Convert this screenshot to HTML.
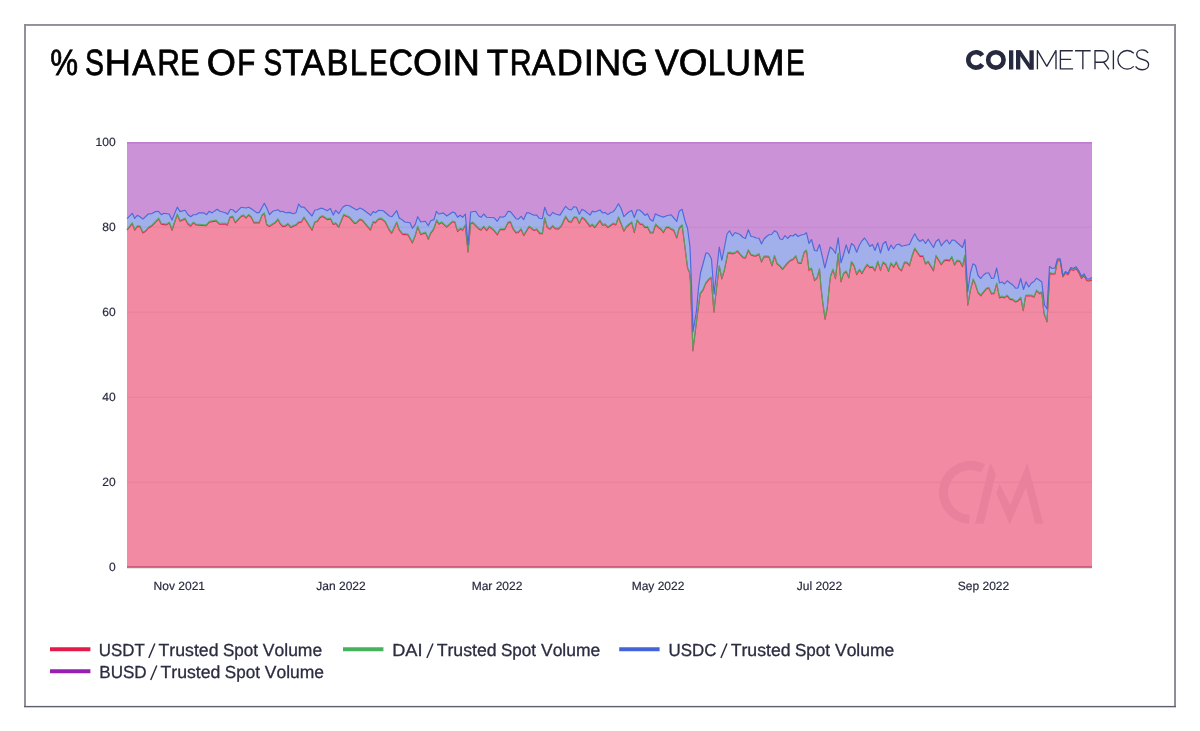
<!DOCTYPE html>
<html><head><meta charset="utf-8"><title>% Share of Stablecoin Trading Volume</title>
<style>
html,body{margin:0;padding:0;background:#fff;}
body{width:1200px;height:731px;overflow:hidden;font-family:"Liberation Sans",sans-serif;}
svg{display:block;font-family:"Liberation Sans",sans-serif;text-rendering:geometricPrecision;}
</style></head>
<body>
<svg width="1200" height="731" viewBox="0 0 1200 731" style="position:absolute;left:0;top:0;will-change:transform">
<g fill="#8a8c99"><rect x="24.05" y="24.05" width="1151.95" height="1.85"/><rect x="24.05" y="24.05" width="1.9" height="683"/><rect x="1174.05" y="24.05" width="1.95" height="683"/></g>
<rect x="24.05" y="705.9" width="1151.95" height="1.25" fill="#5c5f70"/><rect x="24.05" y="707.15" width="1151.95" height="0.6" fill="#b9bbc4"/>
<rect x="127.0" y="142.0" width="965.0" height="425.0" fill="#cc92d8"/>
<path d="M127.0,218.7 L132.3,213.3 L134.7,218.4 L137.3,215.3 L140.0,216.7 L142.9,219.1 L148.3,214.0 L152.0,213.6 L155.7,211.6 L158.4,211.3 L161.3,214.7 L164.0,213.3 L169.1,214.0 L172.0,220.0 L177.3,207.1 L180.0,211.6 L185.1,210.3 L188.0,214.7 L190.7,216.7 L193.3,214.7 L196.0,214.7 L198.7,212.9 L204.0,212.9 L206.7,214.7 L209.1,211.3 L212.0,212.9 L217.1,209.3 L220.0,211.3 L225.3,212.7 L227.7,214.3 L230.4,209.3 L233.1,210.0 L235.7,212.7 L241.1,207.3 L246.0,208.0 L248.7,207.3 L252.0,209.3 L257.1,212.9 L259.3,212.4 L264.3,203.3 L266.7,208.0 L269.6,214.7 L272.7,211.3 L278.0,209.7 L280.0,211.6 L282.7,211.3 L285.3,212.7 L289.3,212.4 L293.3,213.7 L296.0,212.7 L298.7,204.0 L301.1,207.1 L304.0,207.1 L312.0,216.0 L314.9,210.0 L317.3,209.7 L320.0,208.4 L322.7,208.4 L327.3,210.7 L330.4,208.4 L333.3,215.1 L335.7,210.3 L338.7,213.7 L342.7,207.3 L346.0,205.3 L349.3,205.7 L356.7,210.0 L360.0,208.0 L362.7,209.3 L370.7,215.3 L373.1,211.6 L375.3,212.7 L378.7,210.3 L383.3,210.7 L389.3,216.0 L392.0,216.7 L396.7,210.7 L399.3,218.3 L402.0,219.6 L404.7,222.0 L410.0,222.7 L412.4,228.4 L415.3,224.4 L417.7,216.7 L420.7,222.0 L425.3,221.3 L428.3,225.7 L430.7,220.7 L434.0,219.6 L436.4,211.3 L438.7,214.0 L440.0,213.7 L443.3,212.9 L446.7,216.0 L452.7,212.0 L454.9,212.9 L457.6,217.3 L460.0,215.3 L462.7,217.3 L465.3,214.0 L468.0,244.7 L470.7,212.0 L475.7,211.3 L478.7,216.0 L481.1,217.3 L483.7,214.0 L486.7,217.3 L494.0,217.7 L497.3,221.3 L500.0,216.7 L502.7,217.3 L505.3,216.0 L508.0,211.3 L510.4,211.6 L516.0,218.7 L518.4,219.1 L521.1,216.4 L523.7,219.6 L526.7,212.7 L529.1,212.9 L534.0,215.3 L536.7,215.1 L539.3,218.3 L542.4,218.7 L544.7,207.3 L547.3,214.3 L550.0,216.0 L552.7,212.4 L556.0,214.3 L560.0,215.1 L565.6,206.3 L568.7,209.3 L571.3,210.0 L574.0,206.7 L576.4,207.3 L579.3,214.3 L582.0,209.3 L584.7,210.7 L590.0,215.1 L592.4,211.1 L594.7,212.0 L600.0,210.0 L602.5,212.9 L605.0,212.5 L607.9,214.6 L610.8,212.5 L613.3,211.7 L615.8,208.3 L618.5,203.8 L621.2,208.8 L623.9,216.7 L626.7,213.8 L629.2,211.7 L631.7,210.4 L634.3,217.5 L637.1,210.0 L639.6,210.0 L642.5,212.5 L645.0,215.4 L647.5,213.8 L650.0,219.2 L652.9,221.2 L655.4,213.8 L658.3,215.4 L660.8,216.2 L663.3,217.1 L666.7,215.8 L671.2,214.8 L673.8,217.9 L676.7,221.5 L679.2,211.2 L682.1,209.3 L683.5,215.0 L685.0,221.0 L687.5,228.0 L690.0,247.0 L691.5,285.0 L693.1,331.4 L696.4,311.7 L698.5,288.0 L700.5,273.0 L703.5,262.0 L706.0,252.8 L708.5,253.5 L711.5,259.0 L713.3,284.0 L714.1,294.2 L716.0,277.0 L719.3,247.0 L721.8,260.5 L724.5,247.0 L727.0,234.0 L729.5,230.8 L732.5,236.0 L735.0,232.5 L737.5,233.5 L740.0,234.5 L743.0,237.5 L745.5,238.5 L748.3,229.8 L751.0,236.5 L753.5,236.8 L756.0,238.0 L759.0,238.2 L761.5,244.0 L764.0,239.0 L766.5,236.5 L769.0,234.8 L771.5,234.5 L774.5,230.8 L777.0,232.2 L780.0,239.0 L782.5,239.5 L785.0,235.5 L787.5,238.5 L790.5,235.5 L793.0,236.0 L795.5,234.0 L798.0,236.5 L801.0,235.0 L804.0,234.5 L806.5,232.8 L809.0,243.5 L811.5,239.5 L814.5,250.5 L817.0,251.0 L819.5,244.5 L822.0,255.0 L824.8,268.0 L827.5,257.0 L830.2,247.0 L833.0,249.5 L835.5,253.5 L838.2,237.8 L841.0,262.8 L843.5,255.0 L846.2,244.8 L848.8,253.5 L851.5,243.5 L854.0,245.5 L856.7,252.2 L859.5,245.0 L862.0,240.8 L864.5,238.0 L867.0,241.5 L869.8,246.5 L872.5,244.5 L875.0,250.5 L877.8,242.8 L880.5,253.0 L883.0,244.0 L885.7,241.5 L888.5,250.5 L891.0,245.0 L893.5,249.0 L896.2,245.0 L899.0,244.0 L901.5,246.2 L909.5,244.5 L912.2,238.5 L914.8,233.8 L917.5,239.0 L920.0,241.5 L922.8,239.5 L925.5,243.5 L928.2,239.2 L930.8,243.5 L933.5,247.5 L936.0,241.5 L938.7,239.2 L941.3,245.8 L944.0,242.5 L946.7,239.8 L949.5,244.0 L952.0,240.0 L954.5,240.2 L957.0,242.5 L959.8,245.0 L962.5,247.5 L965.0,239.5 L966.2,265.0 L967.8,291.5 L970.5,272.5 L973.0,263.8 L975.5,265.5 L978.0,275.5 L980.8,278.5 L983.5,275.0 L986.2,273.0 L988.8,273.0 L991.5,278.5 L994.0,278.0 L996.7,268.0 L999.5,283.0 L1002.0,282.0 L1004.5,284.0 L1007.2,280.8 L1010.0,283.0 L1012.8,285.0 L1015.5,288.2 L1018.0,288.0 L1020.7,278.5 L1023.5,289.5 L1026.0,281.8 L1028.7,287.0 L1031.5,283.0 L1034.0,281.5 L1036.5,278.2 L1039.5,280.2 L1041.8,282.0 L1044.5,305.0 L1047.0,309.0 L1049.5,266.5 L1052.2,268.5 L1055.0,268.0 L1057.5,258.8 L1060.2,258.8 L1062.8,275.5 L1065.5,271.5 L1068.0,273.5 L1070.8,267.5 L1073.5,268.5 L1076.0,266.8 L1078.7,270.5 L1081.5,276.5 L1084.0,273.8 L1086.8,278.8 L1089.3,279.0 L1092.0,277.5 L1092.0,567.0 L127.0,567.0 Z" fill="#a1b0eb"/>
<path d="M127.0,229.3 L132.3,222.7 L134.7,229.3 L137.3,225.7 L140.0,225.7 L142.9,232.0 L145.3,230.7 L148.3,227.3 L152.0,224.9 L158.7,218.0 L161.3,223.3 L166.7,224.0 L169.3,222.0 L172.0,229.3 L177.3,213.7 L180.0,220.4 L185.1,218.0 L188.0,223.3 L190.7,225.3 L193.3,222.0 L196.0,224.0 L206.0,224.9 L209.3,221.3 L216.0,220.0 L219.3,223.3 L225.3,223.1 L227.3,224.4 L230.0,216.7 L232.7,216.0 L235.3,222.0 L240.7,216.0 L243.3,214.7 L246.0,217.3 L248.7,214.3 L251.3,216.7 L254.0,222.0 L259.3,222.0 L262.0,214.7 L264.3,212.7 L266.7,224.0 L269.3,225.7 L275.3,222.0 L278.0,218.7 L280.0,222.7 L282.7,225.7 L285.3,225.3 L288.0,223.3 L290.9,226.7 L293.3,225.3 L296.0,224.4 L298.7,221.7 L301.3,221.3 L304.0,216.9 L312.0,229.3 L314.7,221.7 L317.3,220.7 L320.0,216.7 L322.7,215.6 L327.3,218.7 L330.4,218.0 L333.3,223.6 L335.7,222.7 L338.7,226.3 L343.7,214.3 L349.3,216.7 L354.7,222.7 L356.7,222.0 L360.0,218.7 L362.7,220.0 L370.4,229.3 L373.1,221.3 L375.3,222.0 L378.7,218.3 L381.3,218.0 L385.3,221.3 L389.3,229.3 L391.7,232.4 L396.7,221.7 L399.3,229.3 L402.4,233.3 L408.0,234.0 L412.4,242.0 L415.3,234.7 L417.7,226.0 L420.7,233.7 L425.6,232.0 L428.3,238.3 L430.7,232.4 L433.6,228.7 L436.7,219.6 L438.9,223.3 L440.0,222.7 L441.6,221.7 L446.7,226.3 L452.7,220.9 L454.9,221.7 L457.6,230.7 L460.3,228.0 L462.7,229.3 L465.3,224.7 L468.0,251.3 L470.7,222.7 L472.7,222.0 L478.7,228.0 L481.1,229.3 L483.7,226.0 L486.7,229.7 L489.3,226.0 L494.0,229.7 L497.3,234.0 L500.0,228.7 L504.7,228.7 L508.0,222.0 L510.4,221.3 L513.3,228.4 L516.0,232.0 L518.4,231.6 L521.1,228.4 L523.7,234.7 L529.1,226.0 L534.0,229.7 L536.7,228.7 L539.7,232.7 L542.4,232.9 L544.7,217.3 L547.3,226.7 L550.0,228.4 L552.7,225.3 L555.3,228.0 L558.7,228.0 L561.3,225.3 L565.6,216.0 L568.7,220.7 L571.3,221.3 L574.0,216.7 L576.7,216.9 L579.3,222.7 L582.0,216.9 L584.7,218.7 L590.0,225.7 L592.4,224.0 L594.7,226.7 L600.0,220.0 L602.5,224.2 L605.2,223.8 L607.9,226.7 L610.8,224.6 L613.3,222.9 L615.8,224.2 L618.5,216.7 L621.2,223.3 L623.9,230.4 L626.7,225.8 L629.2,223.8 L631.7,221.7 L634.3,231.7 L637.1,219.6 L640.0,223.3 L642.5,223.8 L645.0,226.7 L647.5,226.2 L650.4,232.1 L652.9,232.1 L655.7,223.8 L658.3,226.7 L660.8,228.3 L663.5,231.7 L666.2,226.7 L668.8,226.7 L671.2,228.5 L673.8,229.6 L676.7,237.1 L679.2,227.5 L682.1,224.6 L684.5,243.0 L687.5,267.0 L689.5,272.0 L690.4,280.0 L692.9,350.0 L696.4,321.6 L700.2,293.0 L703.0,289.3 L705.7,282.7 L709.0,278.5 L711.2,277.0 L713.9,311.2 L716.6,287.0 L719.3,265.5 L721.8,278.0 L724.5,269.0 L727.8,252.5 L730.0,252.0 L732.5,253.0 L735.0,252.2 L737.5,250.5 L740.0,253.5 L743.0,256.8 L745.5,257.2 L748.3,249.5 L751.0,254.2 L753.5,255.0 L756.0,255.2 L759.0,253.5 L761.5,261.2 L764.0,256.0 L766.5,255.8 L769.0,256.2 L772.0,265.0 L774.5,255.2 L777.0,263.0 L780.0,265.5 L782.5,268.5 L785.0,265.5 L787.5,262.5 L790.5,259.8 L793.0,258.8 L795.8,255.5 L798.0,262.0 L801.2,262.5 L804.0,252.0 L806.5,249.8 L809.0,269.5 L811.5,268.0 L814.5,279.8 L817.0,277.5 L819.5,268.5 L821.0,286.8 L823.0,304.0 L825.1,318.4 L827.3,306.9 L829.2,286.8 L830.6,275.3 L833.0,269.0 L835.5,277.8 L838.2,253.0 L841.0,281.0 L843.5,273.0 L846.2,270.8 L848.8,277.0 L851.5,261.2 L854.0,265.0 L856.7,273.8 L859.5,269.0 L862.0,272.8 L864.5,268.0 L867.2,264.0 L869.8,266.8 L872.5,266.2 L875.0,270.0 L877.8,261.0 L880.5,269.5 L883.0,261.8 L885.7,263.8 L888.5,270.5 L891.0,262.5 L893.8,266.5 L896.2,261.5 L899.0,267.8 L901.5,270.0 L904.5,261.8 L907.0,262.0 L909.5,265.0 L912.2,255.0 L914.8,247.8 L917.5,252.0 L920.0,255.5 L923.0,255.5 L925.5,263.2 L928.2,261.0 L930.8,265.5 L933.5,270.0 L936.0,255.2 L938.7,259.5 L941.3,263.8 L944.0,260.0 L946.7,259.2 L949.5,260.0 L951.8,256.2 L954.5,264.2 L957.0,260.0 L959.8,260.5 L962.5,265.8 L964.8,255.0 L966.0,275.0 L967.8,304.2 L970.5,289.0 L973.2,278.8 L975.5,284.0 L978.0,292.0 L980.8,295.0 L983.5,291.5 L986.2,288.2 L988.8,287.2 L991.5,293.0 L994.0,292.8 L996.7,283.0 L999.5,297.0 L1002.0,296.0 L1004.5,297.0 L1007.2,295.0 L1010.0,298.5 L1012.8,299.0 L1015.5,301.2 L1018.0,300.2 L1020.7,297.0 L1023.2,309.8 L1025.7,295.0 L1028.7,295.0 L1031.5,295.0 L1034.0,296.5 L1036.5,290.0 L1039.5,292.8 L1041.8,291.5 L1044.0,313.0 L1047.0,321.0 L1049.8,272.5 L1052.2,273.2 L1055.0,273.0 L1057.5,259.8 L1060.2,259.8 L1062.8,276.0 L1065.5,272.2 L1068.0,274.0 L1070.8,268.3 L1073.5,269.5 L1076.0,267.8 L1078.7,271.5 L1081.5,277.5 L1084.0,274.8 L1086.8,279.8 L1089.3,280.0 L1092.0,279.0 L1092.0,567.0 L127.0,567.0 Z" fill="#f38aa4"/>
<line x1="127.0" x2="1092.0" y1="482.25" y2="482.25" stroke="#000" stroke-opacity="0.04" stroke-width="1.3"/>
<line x1="127.0" x2="1092.0" y1="397.25" y2="397.25" stroke="#000" stroke-opacity="0.04" stroke-width="1.3"/>
<line x1="127.0" x2="1092.0" y1="312.25" y2="312.25" stroke="#000" stroke-opacity="0.04" stroke-width="1.3"/>
<line x1="127.0" x2="1092.0" y1="227.25" y2="227.25" stroke="#000" stroke-opacity="0.04" stroke-width="1.3"/>
<path d="M982.92,468.54 A26.9,26.9 0 1 0 969.33,519.27" fill="none" stroke="#e9819d" stroke-width="9"/>
<g fill="#e9819d"><polygon points="975.1,523.8 989.3,465.7 991,463.7 995.7,474.4 983.7,523.8"/><polygon points="999.5,483.7 996.3,493.6 1009.7,524.4 1025.9,487.2 1035.2,523.8 1043.4,523.8 1027.4,462.8 1010.2,505"/></g>
<line x1="127.0" x2="1092.0" y1="142.85" y2="142.85" stroke="#c07ed0" stroke-width="1.7"/>
<path d="M127.0,230.2 L132.3,223.6 L134.7,230.2 L137.3,226.6 L140.0,226.6 L142.9,232.9 L145.3,231.6 L148.3,228.2 L152.0,225.8 L158.7,218.9 L161.3,224.2 L166.7,224.9 L169.3,222.9 L172.0,230.2 L177.3,214.6 L180.0,221.3 L185.1,218.9 L188.0,224.2 L190.7,226.2 L193.3,222.9 L196.0,224.9 L206.0,225.8 L209.3,222.2 L216.0,220.9 L219.3,224.2 L225.3,224.0 L227.3,225.3 L230.0,217.6 L232.7,216.9 L235.3,222.9 L240.7,216.9 L243.3,215.6 L246.0,218.2 L248.7,215.2 L251.3,217.6 L254.0,222.9 L259.3,222.9 L262.0,215.6 L264.3,213.6 L266.7,224.9 L269.3,226.6 L275.3,222.9 L278.0,219.6 L280.0,223.6 L282.7,226.6 L285.3,226.2 L288.0,224.2 L290.9,227.6 L293.3,226.2 L296.0,225.3 L298.7,222.6 L301.3,222.2 L304.0,217.8 L312.0,230.2 L314.7,222.6 L317.3,221.6 L320.0,217.6 L322.7,216.5 L327.3,219.6 L330.4,218.9 L333.3,224.5 L335.7,223.6 L338.7,227.2 L343.7,215.2 L349.3,217.6 L354.7,223.6 L356.7,222.9 L360.0,219.6 L362.7,220.9 L370.4,230.2 L373.1,222.2 L375.3,222.9 L378.7,219.2 L381.3,218.9 L385.3,222.2 L389.3,230.2 L391.7,233.3 L396.7,222.6 L399.3,230.2 L402.4,234.2 L408.0,234.9 L412.4,242.9 L415.3,235.6 L417.7,226.9 L420.7,234.6 L425.6,232.9 L428.3,239.2 L430.7,233.3 L433.6,229.6 L436.7,220.5 L438.9,224.2 L440.0,223.6 L441.6,222.6 L446.7,227.2 L452.7,221.8 L454.9,222.6 L457.6,231.6 L460.3,228.9 L462.7,230.2 L465.3,225.6 L468.0,252.2 L470.7,223.6 L472.7,222.9 L478.7,228.9 L481.1,230.2 L483.7,226.9 L486.7,230.6 L489.3,226.9 L494.0,230.6 L497.3,234.9 L500.0,229.6 L504.7,229.6 L508.0,222.9 L510.4,222.2 L513.3,229.3 L516.0,232.9 L518.4,232.5 L521.1,229.3 L523.7,235.6 L529.1,226.9 L534.0,230.6 L536.7,229.6 L539.7,233.6 L542.4,233.8 L544.7,218.2 L547.3,227.6 L550.0,229.3 L552.7,226.2 L555.3,228.9 L558.7,228.9 L561.3,226.2 L565.6,216.9 L568.7,221.6 L571.3,222.2 L574.0,217.6 L576.7,217.8 L579.3,223.6 L582.0,217.8 L584.7,219.6 L590.0,226.6 L592.4,224.9 L594.7,227.6 L600.0,220.9 L602.5,225.1 L605.2,224.7 L607.9,227.6 L610.8,225.5 L613.3,223.8 L615.8,225.1 L618.5,217.6 L621.2,224.2 L623.9,231.3 L626.7,226.7 L629.2,224.7 L631.7,222.6 L634.3,232.6 L637.1,220.5 L640.0,224.2 L642.5,224.7 L645.0,227.6 L647.5,227.2 L650.4,233.0 L652.9,233.0 L655.7,224.7 L658.3,227.6 L660.8,229.2 L663.5,232.6 L666.2,227.6 L668.8,227.6 L671.2,229.4 L673.8,230.5 L676.7,238.0 L679.2,228.4 L682.1,225.5 L684.5,243.9 L687.5,267.9 L689.5,272.9 L690.4,280.9 L692.9,350.9 L696.4,322.5 L700.2,293.9 L703.0,290.2 L705.7,283.6 L709.0,279.4 L711.2,277.9 L713.9,312.1 L716.6,287.9 L719.3,266.4 L721.8,278.9 L724.5,269.9 L727.8,253.4 L730.0,252.9 L732.5,253.9 L735.0,253.1 L737.5,251.4 L740.0,254.4 L743.0,257.7 L745.5,258.1 L748.3,250.4 L751.0,255.1 L753.5,255.9 L756.0,256.1 L759.0,254.4 L761.5,262.1 L764.0,256.9 L766.5,256.7 L769.0,257.1 L772.0,265.9 L774.5,256.1 L777.0,263.9 L780.0,266.4 L782.5,269.4 L785.0,266.4 L787.5,263.4 L790.5,260.7 L793.0,259.7 L795.8,256.4 L798.0,262.9 L801.2,263.4 L804.0,252.9 L806.5,250.7 L809.0,270.4 L811.5,268.9 L814.5,280.7 L817.0,278.4 L819.5,269.4 L821.0,287.7 L823.0,304.9 L825.1,319.3 L827.3,307.8 L829.2,287.7 L830.6,276.2 L833.0,269.9 L835.5,278.7 L838.2,253.9 L841.0,281.9 L843.5,273.9 L846.2,271.7 L848.8,277.9 L851.5,262.1 L854.0,265.9 L856.7,274.7 L859.5,269.9 L862.0,273.7 L864.5,268.9 L867.2,264.9 L869.8,267.7 L872.5,267.1 L875.0,270.9 L877.8,261.9 L880.5,270.4 L883.0,262.7 L885.7,264.7 L888.5,271.4 L891.0,263.4 L893.8,267.4 L896.2,262.4 L899.0,268.7 L901.5,270.9 L904.5,262.7 L907.0,262.9 L909.5,265.9 L912.2,255.9 L914.8,248.7 L917.5,252.9 L920.0,256.4 L923.0,256.4 L925.5,264.1 L928.2,261.9 L930.8,266.4 L933.5,270.9 L936.0,256.1 L938.7,260.4 L941.3,264.7 L944.0,260.9 L946.7,260.1 L949.5,260.9 L951.8,257.1 L954.5,265.1 L957.0,260.9 L959.8,261.4 L962.5,266.7 L964.8,255.9 L966.0,275.9 L967.8,305.1 L970.5,289.9 L973.2,279.7 L975.5,284.9 L978.0,292.9 L980.8,295.9 L983.5,292.4 L986.2,289.1 L988.8,288.1 L991.5,293.9 L994.0,293.7 L996.7,283.9 L999.5,297.9 L1002.0,296.9 L1004.5,297.9 L1007.2,295.9 L1010.0,299.4 L1012.8,299.9 L1015.5,302.1 L1018.0,301.1 L1020.7,297.9 L1023.2,310.7 L1025.7,295.9 L1028.7,295.9 L1031.5,295.9 L1034.0,297.4 L1036.5,290.9 L1039.5,293.7 L1041.8,292.4 L1044.0,313.9 L1047.0,321.9 L1049.8,273.4 L1052.2,274.1 L1055.0,273.9 L1057.5,260.7 L1060.2,260.7 L1062.8,276.9 L1065.5,273.1 L1068.0,274.9 L1070.8,269.2 L1073.5,270.4 L1076.0,268.7 L1078.7,272.4 L1081.5,278.4 L1084.0,275.7 L1086.8,280.7 L1089.3,280.9 L1092.0,279.9" fill="none" stroke="#e6194b" stroke-width="1.1" stroke-opacity="0.9" stroke-linejoin="round"/>
<path d="M127.0,229.3 L132.3,222.7 L134.7,229.3 L137.3,225.7 L140.0,225.7 L142.9,232.0 L145.3,230.7 L148.3,227.3 L152.0,224.9 L158.7,218.0 L161.3,223.3 L166.7,224.0 L169.3,222.0 L172.0,229.3 L177.3,213.7 L180.0,220.4 L185.1,218.0 L188.0,223.3 L190.7,225.3 L193.3,222.0 L196.0,224.0 L206.0,224.9 L209.3,221.3 L216.0,220.0 L219.3,223.3 L225.3,223.1 L227.3,224.4 L230.0,216.7 L232.7,216.0 L235.3,222.0 L240.7,216.0 L243.3,214.7 L246.0,217.3 L248.7,214.3 L251.3,216.7 L254.0,222.0 L259.3,222.0 L262.0,214.7 L264.3,212.7 L266.7,224.0 L269.3,225.7 L275.3,222.0 L278.0,218.7 L280.0,222.7 L282.7,225.7 L285.3,225.3 L288.0,223.3 L290.9,226.7 L293.3,225.3 L296.0,224.4 L298.7,221.7 L301.3,221.3 L304.0,216.9 L312.0,229.3 L314.7,221.7 L317.3,220.7 L320.0,216.7 L322.7,215.6 L327.3,218.7 L330.4,218.0 L333.3,223.6 L335.7,222.7 L338.7,226.3 L343.7,214.3 L349.3,216.7 L354.7,222.7 L356.7,222.0 L360.0,218.7 L362.7,220.0 L370.4,229.3 L373.1,221.3 L375.3,222.0 L378.7,218.3 L381.3,218.0 L385.3,221.3 L389.3,229.3 L391.7,232.4 L396.7,221.7 L399.3,229.3 L402.4,233.3 L408.0,234.0 L412.4,242.0 L415.3,234.7 L417.7,226.0 L420.7,233.7 L425.6,232.0 L428.3,238.3 L430.7,232.4 L433.6,228.7 L436.7,219.6 L438.9,223.3 L440.0,222.7 L441.6,221.7 L446.7,226.3 L452.7,220.9 L454.9,221.7 L457.6,230.7 L460.3,228.0 L462.7,229.3 L465.3,224.7 L468.0,251.3 L470.7,222.7 L472.7,222.0 L478.7,228.0 L481.1,229.3 L483.7,226.0 L486.7,229.7 L489.3,226.0 L494.0,229.7 L497.3,234.0 L500.0,228.7 L504.7,228.7 L508.0,222.0 L510.4,221.3 L513.3,228.4 L516.0,232.0 L518.4,231.6 L521.1,228.4 L523.7,234.7 L529.1,226.0 L534.0,229.7 L536.7,228.7 L539.7,232.7 L542.4,232.9 L544.7,217.3 L547.3,226.7 L550.0,228.4 L552.7,225.3 L555.3,228.0 L558.7,228.0 L561.3,225.3 L565.6,216.0 L568.7,220.7 L571.3,221.3 L574.0,216.7 L576.7,216.9 L579.3,222.7 L582.0,216.9 L584.7,218.7 L590.0,225.7 L592.4,224.0 L594.7,226.7 L600.0,220.0 L602.5,224.2 L605.2,223.8 L607.9,226.7 L610.8,224.6 L613.3,222.9 L615.8,224.2 L618.5,216.7 L621.2,223.3 L623.9,230.4 L626.7,225.8 L629.2,223.8 L631.7,221.7 L634.3,231.7 L637.1,219.6 L640.0,223.3 L642.5,223.8 L645.0,226.7 L647.5,226.2 L650.4,232.1 L652.9,232.1 L655.7,223.8 L658.3,226.7 L660.8,228.3 L663.5,231.7 L666.2,226.7 L668.8,226.7 L671.2,228.5 L673.8,229.6 L676.7,237.1 L679.2,227.5 L682.1,224.6 L684.5,243.0 L687.5,267.0 L689.5,272.0 L690.4,280.0 L692.9,350.0 L696.4,321.6 L700.2,293.0 L703.0,289.3 L705.7,282.7 L709.0,278.5 L711.2,277.0 L713.9,311.2 L716.6,287.0 L719.3,265.5 L721.8,278.0 L724.5,269.0 L727.8,252.5 L730.0,252.0 L732.5,253.0 L735.0,252.2 L737.5,250.5 L740.0,253.5 L743.0,256.8 L745.5,257.2 L748.3,249.5 L751.0,254.2 L753.5,255.0 L756.0,255.2 L759.0,253.5 L761.5,261.2 L764.0,256.0 L766.5,255.8 L769.0,256.2 L772.0,265.0 L774.5,255.2 L777.0,263.0 L780.0,265.5 L782.5,268.5 L785.0,265.5 L787.5,262.5 L790.5,259.8 L793.0,258.8 L795.8,255.5 L798.0,262.0 L801.2,262.5 L804.0,252.0 L806.5,249.8 L809.0,269.5 L811.5,268.0 L814.5,279.8 L817.0,277.5 L819.5,268.5 L821.0,286.8 L823.0,304.0 L825.1,318.4 L827.3,306.9 L829.2,286.8 L830.6,275.3 L833.0,269.0 L835.5,277.8 L838.2,253.0 L841.0,281.0 L843.5,273.0 L846.2,270.8 L848.8,277.0 L851.5,261.2 L854.0,265.0 L856.7,273.8 L859.5,269.0 L862.0,272.8 L864.5,268.0 L867.2,264.0 L869.8,266.8 L872.5,266.2 L875.0,270.0 L877.8,261.0 L880.5,269.5 L883.0,261.8 L885.7,263.8 L888.5,270.5 L891.0,262.5 L893.8,266.5 L896.2,261.5 L899.0,267.8 L901.5,270.0 L904.5,261.8 L907.0,262.0 L909.5,265.0 L912.2,255.0 L914.8,247.8 L917.5,252.0 L920.0,255.5 L923.0,255.5 L925.5,263.2 L928.2,261.0 L930.8,265.5 L933.5,270.0 L936.0,255.2 L938.7,259.5 L941.3,263.8 L944.0,260.0 L946.7,259.2 L949.5,260.0 L951.8,256.2 L954.5,264.2 L957.0,260.0 L959.8,260.5 L962.5,265.8 L964.8,255.0 L966.0,275.0 L967.8,304.2 L970.5,289.0 L973.2,278.8 L975.5,284.0 L978.0,292.0 L980.8,295.0 L983.5,291.5 L986.2,288.2 L988.8,287.2 L991.5,293.0 L994.0,292.8 L996.7,283.0 L999.5,297.0 L1002.0,296.0 L1004.5,297.0 L1007.2,295.0 L1010.0,298.5 L1012.8,299.0 L1015.5,301.2 L1018.0,300.2 L1020.7,297.0 L1023.2,309.8 L1025.7,295.0 L1028.7,295.0 L1031.5,295.0 L1034.0,296.5 L1036.5,290.0 L1039.5,292.8 L1041.8,291.5 L1044.0,313.0 L1047.0,321.0 L1049.8,272.5 L1052.2,273.2 L1055.0,273.0 L1057.5,259.8 L1060.2,259.8 L1062.8,276.0 L1065.5,272.2 L1068.0,274.0 L1070.8,268.3 L1073.5,269.5 L1076.0,267.8 L1078.7,271.5 L1081.5,277.5 L1084.0,274.8 L1086.8,279.8 L1089.3,280.0 L1092.0,279.0" fill="none" stroke="#45b25c" stroke-width="1.1" stroke-opacity="0.88" stroke-linejoin="round"/>
<path d="M127.0,218.7 L132.3,213.3 L134.7,218.4 L137.3,215.3 L140.0,216.7 L142.9,219.1 L148.3,214.0 L152.0,213.6 L155.7,211.6 L158.4,211.3 L161.3,214.7 L164.0,213.3 L169.1,214.0 L172.0,220.0 L177.3,207.1 L180.0,211.6 L185.1,210.3 L188.0,214.7 L190.7,216.7 L193.3,214.7 L196.0,214.7 L198.7,212.9 L204.0,212.9 L206.7,214.7 L209.1,211.3 L212.0,212.9 L217.1,209.3 L220.0,211.3 L225.3,212.7 L227.7,214.3 L230.4,209.3 L233.1,210.0 L235.7,212.7 L241.1,207.3 L246.0,208.0 L248.7,207.3 L252.0,209.3 L257.1,212.9 L259.3,212.4 L264.3,203.3 L266.7,208.0 L269.6,214.7 L272.7,211.3 L278.0,209.7 L280.0,211.6 L282.7,211.3 L285.3,212.7 L289.3,212.4 L293.3,213.7 L296.0,212.7 L298.7,204.0 L301.1,207.1 L304.0,207.1 L312.0,216.0 L314.9,210.0 L317.3,209.7 L320.0,208.4 L322.7,208.4 L327.3,210.7 L330.4,208.4 L333.3,215.1 L335.7,210.3 L338.7,213.7 L342.7,207.3 L346.0,205.3 L349.3,205.7 L356.7,210.0 L360.0,208.0 L362.7,209.3 L370.7,215.3 L373.1,211.6 L375.3,212.7 L378.7,210.3 L383.3,210.7 L389.3,216.0 L392.0,216.7 L396.7,210.7 L399.3,218.3 L402.0,219.6 L404.7,222.0 L410.0,222.7 L412.4,228.4 L415.3,224.4 L417.7,216.7 L420.7,222.0 L425.3,221.3 L428.3,225.7 L430.7,220.7 L434.0,219.6 L436.4,211.3 L438.7,214.0 L440.0,213.7 L443.3,212.9 L446.7,216.0 L452.7,212.0 L454.9,212.9 L457.6,217.3 L460.0,215.3 L462.7,217.3 L465.3,214.0 L468.0,244.7 L470.7,212.0 L475.7,211.3 L478.7,216.0 L481.1,217.3 L483.7,214.0 L486.7,217.3 L494.0,217.7 L497.3,221.3 L500.0,216.7 L502.7,217.3 L505.3,216.0 L508.0,211.3 L510.4,211.6 L516.0,218.7 L518.4,219.1 L521.1,216.4 L523.7,219.6 L526.7,212.7 L529.1,212.9 L534.0,215.3 L536.7,215.1 L539.3,218.3 L542.4,218.7 L544.7,207.3 L547.3,214.3 L550.0,216.0 L552.7,212.4 L556.0,214.3 L560.0,215.1 L565.6,206.3 L568.7,209.3 L571.3,210.0 L574.0,206.7 L576.4,207.3 L579.3,214.3 L582.0,209.3 L584.7,210.7 L590.0,215.1 L592.4,211.1 L594.7,212.0 L600.0,210.0 L602.5,212.9 L605.0,212.5 L607.9,214.6 L610.8,212.5 L613.3,211.7 L615.8,208.3 L618.5,203.8 L621.2,208.8 L623.9,216.7 L626.7,213.8 L629.2,211.7 L631.7,210.4 L634.3,217.5 L637.1,210.0 L639.6,210.0 L642.5,212.5 L645.0,215.4 L647.5,213.8 L650.0,219.2 L652.9,221.2 L655.4,213.8 L658.3,215.4 L660.8,216.2 L663.3,217.1 L666.7,215.8 L671.2,214.8 L673.8,217.9 L676.7,221.5 L679.2,211.2 L682.1,209.3 L683.5,215.0 L685.0,221.0 L687.5,228.0 L690.0,247.0 L691.5,285.0 L693.1,331.4 L696.4,311.7 L698.5,288.0 L700.5,273.0 L703.5,262.0 L706.0,252.8 L708.5,253.5 L711.5,259.0 L713.3,284.0 L714.1,294.2 L716.0,277.0 L719.3,247.0 L721.8,260.5 L724.5,247.0 L727.0,234.0 L729.5,230.8 L732.5,236.0 L735.0,232.5 L737.5,233.5 L740.0,234.5 L743.0,237.5 L745.5,238.5 L748.3,229.8 L751.0,236.5 L753.5,236.8 L756.0,238.0 L759.0,238.2 L761.5,244.0 L764.0,239.0 L766.5,236.5 L769.0,234.8 L771.5,234.5 L774.5,230.8 L777.0,232.2 L780.0,239.0 L782.5,239.5 L785.0,235.5 L787.5,238.5 L790.5,235.5 L793.0,236.0 L795.5,234.0 L798.0,236.5 L801.0,235.0 L804.0,234.5 L806.5,232.8 L809.0,243.5 L811.5,239.5 L814.5,250.5 L817.0,251.0 L819.5,244.5 L822.0,255.0 L824.8,268.0 L827.5,257.0 L830.2,247.0 L833.0,249.5 L835.5,253.5 L838.2,237.8 L841.0,262.8 L843.5,255.0 L846.2,244.8 L848.8,253.5 L851.5,243.5 L854.0,245.5 L856.7,252.2 L859.5,245.0 L862.0,240.8 L864.5,238.0 L867.0,241.5 L869.8,246.5 L872.5,244.5 L875.0,250.5 L877.8,242.8 L880.5,253.0 L883.0,244.0 L885.7,241.5 L888.5,250.5 L891.0,245.0 L893.5,249.0 L896.2,245.0 L899.0,244.0 L901.5,246.2 L909.5,244.5 L912.2,238.5 L914.8,233.8 L917.5,239.0 L920.0,241.5 L922.8,239.5 L925.5,243.5 L928.2,239.2 L930.8,243.5 L933.5,247.5 L936.0,241.5 L938.7,239.2 L941.3,245.8 L944.0,242.5 L946.7,239.8 L949.5,244.0 L952.0,240.0 L954.5,240.2 L957.0,242.5 L959.8,245.0 L962.5,247.5 L965.0,239.5 L966.2,265.0 L967.8,291.5 L970.5,272.5 L973.0,263.8 L975.5,265.5 L978.0,275.5 L980.8,278.5 L983.5,275.0 L986.2,273.0 L988.8,273.0 L991.5,278.5 L994.0,278.0 L996.7,268.0 L999.5,283.0 L1002.0,282.0 L1004.5,284.0 L1007.2,280.8 L1010.0,283.0 L1012.8,285.0 L1015.5,288.2 L1018.0,288.0 L1020.7,278.5 L1023.5,289.5 L1026.0,281.8 L1028.7,287.0 L1031.5,283.0 L1034.0,281.5 L1036.5,278.2 L1039.5,280.2 L1041.8,282.0 L1044.5,305.0 L1047.0,309.0 L1049.5,266.5 L1052.2,268.5 L1055.0,268.0 L1057.5,258.8 L1060.2,258.8 L1062.8,275.5 L1065.5,271.5 L1068.0,273.5 L1070.8,267.5 L1073.5,268.5 L1076.0,266.8 L1078.7,270.5 L1081.5,276.5 L1084.0,273.8 L1086.8,278.8 L1089.3,279.0 L1092.0,277.5" fill="none" stroke="#4363d8" stroke-width="1.15" stroke-opacity="0.9" stroke-linejoin="round"/>
<line x1="127.0" x2="1092.0" y1="566.6" y2="566.6" stroke="#d25c7b" stroke-width="1.2"/>
<line x1="127.0" x2="1092.0" y1="567.55" y2="567.55" stroke="#93708b" stroke-width="0.9"/>
<line x1="127.0" x2="1092.0" y1="568.4" y2="568.4" stroke="#b5b8c2" stroke-opacity="0.45" stroke-width="0.8"/>
<text x="115.6" y="571.3" text-anchor="end" font-size="12" fill="#2a2c40" stroke="#2a2c40" stroke-width="0.2">0</text>
<text x="115.6" y="486.3" text-anchor="end" font-size="12" fill="#2a2c40" stroke="#2a2c40" stroke-width="0.2">20</text>
<text x="115.6" y="401.3" text-anchor="end" font-size="12" fill="#2a2c40" stroke="#2a2c40" stroke-width="0.2">40</text>
<text x="115.6" y="316.3" text-anchor="end" font-size="12" fill="#2a2c40" stroke="#2a2c40" stroke-width="0.2">60</text>
<text x="115.6" y="231.3" text-anchor="end" font-size="12" fill="#2a2c40" stroke="#2a2c40" stroke-width="0.2">80</text>
<text x="115.6" y="146.3" text-anchor="end" font-size="12" fill="#2a2c40" stroke="#2a2c40" stroke-width="0.2">100</text>
<text x="179.3" y="590.4" text-anchor="middle" font-size="12" fill="#2a2c40" stroke="#2a2c40" stroke-width="0.2">Nov 2021</text>
<text x="341" y="590.4" text-anchor="middle" font-size="12" fill="#2a2c40" stroke="#2a2c40" stroke-width="0.2">Jan 2022</text>
<text x="497" y="590.4" text-anchor="middle" font-size="12" fill="#2a2c40" stroke="#2a2c40" stroke-width="0.2">Mar 2022</text>
<text x="658" y="590.4" text-anchor="middle" font-size="12" fill="#2a2c40" stroke="#2a2c40" stroke-width="0.2">May 2022</text>
<text x="819.5" y="590.4" text-anchor="middle" font-size="12" fill="#2a2c40" stroke="#2a2c40" stroke-width="0.2">Jul 2022</text>
<text x="983.5" y="590.4" text-anchor="middle" font-size="12" fill="#2a2c40" stroke="#2a2c40" stroke-width="0.2">Sep 2022</text>
<g role="heading" aria-label="% SHARE OF STABLECOIN TRADING VOLUME" font-size="36.6" fill="#000" stroke="#000" stroke-width="0.75" text-rendering="geometricPrecision"><text transform="translate(50.22,75.4) scale(0.8544,1)">%</text><text transform="translate(85.04,75.4) scale(0.7795,1)">S</text><text transform="translate(104.87,75.4) scale(0.9893,1)">H</text><text transform="translate(132.17,75.4) scale(0.9487,1)">A</text><text transform="translate(157.16,75.4) scale(0.8594,1)">R</text><text transform="translate(180.37,75.4) scale(0.7902,1)">E</text><text transform="translate(206.66,75.4) scale(1.0257,1)">O</text><text transform="translate(237.32,75.4) scale(0.8064,1)">F</text><text transform="translate(263.46,75.4) scale(0.7677,1)">S</text><text transform="translate(282.31,75.4) scale(0.9507,1)">T</text><text transform="translate(301.37,75.4) scale(0.9673,1)">A</text><text transform="translate(326.39,75.4) scale(0.8971,1)">B</text><text transform="translate(349.65,75.4) scale(0.8629,1)">L</text><text transform="translate(369.32,75.4) scale(0.7549,1)">E</text><text transform="translate(388.64,75.4) scale(0.9157,1)">C</text><text transform="translate(412.97,75.4) scale(1.0217,1)">O</text><text transform="translate(442.42,75.4) scale(1.0000,1)">I</text><text transform="translate(452.86,75.4) scale(1.0259,1)">N</text><text transform="translate(486.80,75.4) scale(0.9580,1)">T</text><text transform="translate(509.75,75.4) scale(0.8295,1)">R</text><text transform="translate(531.77,75.4) scale(0.9652,1)">A</text><text transform="translate(556.77,75.4) scale(0.9883,1)">D</text><text transform="translate(583.67,75.4) scale(1.0000,1)">I</text><text transform="translate(594.16,75.4) scale(1.0235,1)">N</text><text transform="translate(621.35,75.4) scale(0.9448,1)">G</text><text transform="translate(654.93,75.4) scale(0.9786,1)">V</text><text transform="translate(678.79,75.4) scale(1.0057,1)">O</text><text transform="translate(707.75,75.4) scale(0.8629,1)">L</text><text transform="translate(725.33,75.4) scale(0.9779,1)">U</text><text transform="translate(752.12,75.4) scale(1.0711,1)">M</text><text transform="translate(786.12,75.4) scale(0.7725,1)">E</text></g>
<line x1="50" x2="90.4" y1="649.2" y2="649.2" stroke="#e6194b" stroke-width="4"/>
<line x1="148.80" y1="658.0" x2="154.90" y2="643.5" stroke="#2a2c40" stroke-width="1.45"/>
<g font-size="17.5" fill="#2a2c40" stroke="#2a2c40" stroke-width="0.3" style="font-kerning:none">
<text transform="translate(98.85,656.30) scale(0.9654,1)">USDT</text>
<text transform="translate(158.55,656.30) scale(1.0103,1)">Trusted</text>
<text transform="translate(222.88,656.30) scale(0.9750,1)">Spot</text>
<text transform="translate(262.87,656.30) scale(0.9986,1)">Volume</text>
</g>
<line x1="343" x2="383.4" y1="649.2" y2="649.2" stroke="#45b25c" stroke-width="4"/>
<line x1="426.90" y1="658.0" x2="433.00" y2="643.5" stroke="#2a2c40" stroke-width="1.45"/>
<g font-size="17.5" fill="#2a2c40" stroke="#2a2c40" stroke-width="0.3" style="font-kerning:none">
<text transform="translate(392.16,656.30) scale(1.0413,1)">DAI</text>
<text transform="translate(436.65,656.30) scale(1.0103,1)">Trusted</text>
<text transform="translate(500.98,656.30) scale(0.9750,1)">Spot</text>
<text transform="translate(540.97,656.30) scale(0.9986,1)">Volume</text>
</g>
<line x1="619.2" x2="659.6" y1="649.2" y2="649.2" stroke="#4363d8" stroke-width="4"/>
<line x1="720.90" y1="658.0" x2="727.00" y2="643.5" stroke="#2a2c40" stroke-width="1.45"/>
<g font-size="17.5" fill="#2a2c40" stroke="#2a2c40" stroke-width="0.3" style="font-kerning:none">
<text transform="translate(668.54,656.30) scale(0.9670,1)">USDC</text>
<text transform="translate(730.65,656.30) scale(1.0103,1)">Trusted</text>
<text transform="translate(794.98,656.30) scale(0.9750,1)">Spot</text>
<text transform="translate(834.97,656.30) scale(0.9986,1)">Volume</text>
</g>
<line x1="50" x2="90.4" y1="671.2" y2="671.2" stroke="#9720b2" stroke-width="4"/>
<line x1="150.70" y1="680.0" x2="156.80" y2="665.5" stroke="#2a2c40" stroke-width="1.45"/>
<g font-size="17.5" fill="#2a2c40" stroke="#2a2c40" stroke-width="0.3" style="font-kerning:none">
<text transform="translate(99.25,678.30) scale(0.9752,1)">BUSD</text>
<text transform="translate(160.45,678.30) scale(1.0103,1)">Trusted</text>
<text transform="translate(224.78,678.30) scale(0.9750,1)">Spot</text>
<text transform="translate(264.77,678.30) scale(0.9986,1)">Volume</text>
</g>
<g fill="none" stroke="#272a3f" stroke-width="4.6"><path d="M982.31,55.48 A7.7,7.7 0 1 0 982.31,64.32"/><circle cx="995.85" cy="59.9" r="7.7"/></g>
<g fill="#272a3f"><rect x="1009" y="50.3" width="4.3" height="19.2"/><rect x="1016" y="50.3" width="4.3" height="19.2"/><rect x="1029.45" y="50.3" width="4.3" height="19.2"/><polygon points="1016,50.3 1020.6,50.3 1033.75,69.5 1029.2,69.5"/></g>
<g fill="none" stroke="#272a3f" stroke-width="1.35" stroke-linejoin="miter" stroke-miterlimit="1.5"><path d="M1037.4,69.3 V50.3 L1046.8,66.4 L1056,50.3 V69.3"/><path d="M1073.1,68.9 H1060.4 V50.7 H1072.8 M1060.4,59.4 H1071.2"/><path d="M1075,50.7 H1090.7 M1082.85,50.7 V69.3"/><path d="M1095,69.3 V50.7 H1102.5 A5.75,5.75 0 0 1 1102.5,62.2 H1095 M1103.6,62.2 L1109,69.3"/><path d="M1113.4,50.3 V69.3"/><path d="M1133.78,53.22 A9.3,9.3 0 1 0 1133.78,66.38"/><path d="M1148.1,53 C1146.8,51 1144.6,49.9 1142.1,49.9 C1138.8,49.9 1136.7,52 1136.7,54.6 C1136.7,57.6 1139.2,58.7 1142.7,59.5 C1146.2,60.3 1148.6,61.5 1148.6,64.5 C1148.6,67.5 1146,69.7 1142.3,69.7 C1139.3,69.7 1136.9,68.5 1135.6,66.4"/></g>
</svg>
</body></html>
